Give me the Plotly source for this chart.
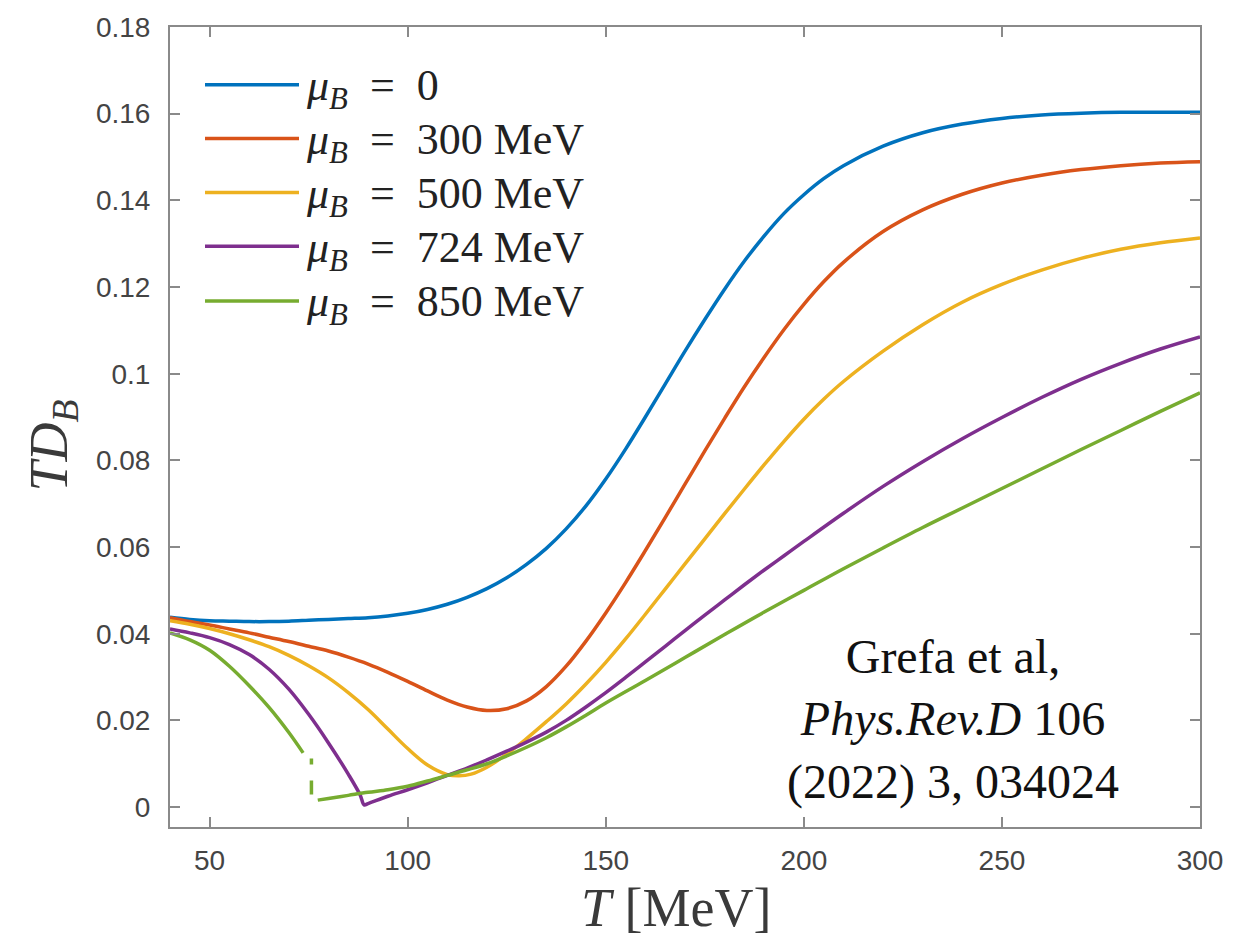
import plotly.graph_objects as go

# Temperature grids (MeV) and T*D_B values for each baryon chemical potential
T_mu0 = [40, 45, 50, 55, 60, 65, 70, 75, 80, 85, 90, 95, 100, 105, 110, 115, 120, 125,
         130, 135, 140, 145, 150, 155, 160, 165, 170, 175, 180, 185, 190, 195, 200,
         205, 210, 220, 230, 240, 250, 260, 270, 280, 290, 300]
D_mu0 = [0.0438, 0.0433, 0.0430, 0.0429, 0.0428, 0.0428, 0.0429, 0.0431, 0.0433, 0.0435,
         0.0437, 0.0441, 0.0447, 0.0456, 0.0468, 0.0484, 0.0504, 0.0529, 0.0560, 0.0597,
         0.0642, 0.0695, 0.0757, 0.0826, 0.0900, 0.0976, 0.1052, 0.1125, 0.1195, 0.1260,
         0.1318, 0.1370, 0.1413, 0.1450, 0.1480, 0.1525, 0.1556, 0.1576, 0.1589, 0.1597,
         0.1601, 0.1603, 0.1603, 0.1603]

T_mu300 = [40, 45, 50, 55, 60, 65, 70, 75, 80, 85, 90, 95, 100, 105, 110, 115, 120, 125,
           130, 135, 140, 145, 150, 155, 160, 165, 170, 175, 180, 185, 190, 195, 200,
           205, 210, 220, 230, 240, 250, 260, 270, 280, 290, 300]
D_mu300 = [0.0437, 0.0428, 0.0420, 0.0411, 0.0402, 0.0392, 0.0382, 0.0371, 0.0360, 0.0346,
           0.0330, 0.0311, 0.0290, 0.0268, 0.0247, 0.0231, 0.0223, 0.0227, 0.0245, 0.0278,
           0.0325, 0.0383, 0.0448, 0.0518, 0.0592, 0.0668, 0.0745, 0.0822, 0.0897, 0.0970,
           0.1038, 0.1102, 0.1160, 0.1212, 0.1257, 0.1328, 0.1378, 0.1414, 0.1440, 0.1458,
           0.1471, 0.1480, 0.1486, 0.1489]

T_mu500 = [40, 45, 50, 55, 60, 65, 70, 75, 80, 85, 90, 95, 100, 105, 110, 113, 116, 120,
           125, 130, 135, 140, 145, 150, 155, 160, 165, 170, 175, 180, 185, 190, 195, 200,
           205, 210, 220, 230, 240, 250, 260, 270, 280, 290, 300]
D_mu500 = [0.0430, 0.0422, 0.0412, 0.0400, 0.0386, 0.0370, 0.0350, 0.0326, 0.0298, 0.0264,
           0.0225, 0.0180, 0.0135, 0.0097, 0.0075, 0.0072, 0.0076, 0.0092, 0.0122, 0.0158,
           0.0197, 0.0238, 0.0284, 0.0334, 0.0388, 0.0445, 0.0503, 0.0561, 0.0619, 0.0677,
           0.0734, 0.0790, 0.0844, 0.0895, 0.0941, 0.0982, 0.1052, 0.1113, 0.1165, 0.1206,
           0.1239, 0.1266, 0.1287, 0.1302, 0.1313]

T_mu724 = [40, 45, 50, 55, 60, 65, 70, 75, 80, 85, 88, 89, 90, 95, 100, 105, 110, 115,
           120, 125, 130, 135, 140, 145, 150, 155, 160, 165, 170, 175, 180, 185, 190, 195,
           200, 210, 220, 230, 240, 250, 260, 270, 280, 290, 300]
D_mu724 = [0.0411, 0.0402, 0.0391, 0.0375, 0.0352, 0.0318, 0.0272, 0.0214, 0.0148, 0.0076,
           0.0028, 0.0005, 0.0008, 0.0025, 0.0040, 0.0056, 0.0073, 0.0090, 0.0109, 0.0129,
           0.0150, 0.0173, 0.0200, 0.0231, 0.0264, 0.0299, 0.0335, 0.0371, 0.0407, 0.0443,
           0.0478, 0.0513, 0.0547, 0.0580, 0.0613, 0.0678, 0.0740, 0.0797, 0.0850, 0.0899,
           0.0945, 0.0987, 0.1024, 0.1057, 0.1085]

# mu_B = 850 MeV: low-T branch, jump, high-T branch
T_mu850_low = [40, 45, 50, 55, 60, 65, 70, 73.6]
D_mu850_low = [0.0402, 0.0386, 0.0362, 0.0325, 0.0280, 0.0230, 0.0172, 0.0125]
T_mu850_jump = [75.7, 75.7]
D_mu850_jump = [0.0112, 0.0020]
T_mu850_high = [77.3, 80, 85, 90, 95, 100, 105, 110, 115, 120, 125, 130, 135, 140, 145,
                150, 160, 170, 180, 190, 200, 210, 220, 230, 240, 250, 260, 270, 280, 290, 300]
D_mu850_high = [0.0016, 0.0020, 0.0027, 0.0034, 0.0040, 0.0048, 0.0060, 0.0073, 0.0086,
                0.0100, 0.0118, 0.0138, 0.0160, 0.0185, 0.0212, 0.0240, 0.0292, 0.0345,
                0.0398, 0.0450, 0.0500, 0.0550, 0.0598, 0.0645, 0.0690, 0.0735, 0.0780,
                0.0825, 0.0869, 0.0913, 0.0956]

legend_labels = ["0", "300 MeV", "500 MeV", "724 MeV", "850 MeV"]
colors = ["#0072BD", "#D95319", "#EDB120", "#7E2F8E", "#77AC30"]

x_ticks = [50, 100, 150, 200, 250, 300]
y_ticks = [0, 0.02, 0.04, 0.06, 0.08, 0.10, 0.12, 0.14, 0.16, 0.18]
y_tick_labels = ["0", "0.02", "0.04", "0.06", "0.08", "0.1", "0.12", "0.14", "0.16", "0.18"]

citation = "Grefa et al,<br><i>Phys.Rev.D</i> 106<br>(2022) 3, 034024"

# figure geometry (pixels)
W, H = 1250, 939
ML, MR, MT, MB = 170, 50, 24, 112
PW, PH = W - ML - MR, H - MT - MB


def px_x(x):
    return (x - ML) / PW


def px_y(y):
    return (H - MB - y) / PH


series = [
    (T_mu0, D_mu0),
    (T_mu300, D_mu300),
    (T_mu500, D_mu500),
    (T_mu724, D_mu724),
]

fig = go.Figure()
LW = 3.5
curve = dict(width=LW, shape="spline", smoothing=1.0)
for (t, d), c, lab in zip(series, colors, legend_labels):
    fig.add_trace(go.Scatter(x=t, y=d, mode="lines", name=f"μB = {lab}",
                             line=dict(color=c, **curve), showlegend=False))

fig.add_trace(go.Scatter(x=T_mu850_low, y=D_mu850_low, mode="lines", name="μB = 850 MeV",
                         line=dict(color=colors[4], **curve), showlegend=False))
fig.add_trace(go.Scatter(x=T_mu850_jump, y=D_mu850_jump, mode="lines",
                         line=dict(color=colors[4], width=LW, dash="6px,16px,14px"),
                         showlegend=False))
fig.add_trace(go.Scatter(x=T_mu850_high, y=D_mu850_high, mode="lines",
                         line=dict(color=colors[4], **curve), showlegend=False))

axis_col = "#8a8a8a"
tick_font = dict(family="Liberation Sans, Arial, sans-serif", size=28, color="#444444")
serif = "Liberation Serif, Times New Roman, serif"

fig.update_xaxes(range=[40, 300], tickvals=x_ticks, ticks="inside", ticklen=10,
                 tickwidth=2, tickcolor=axis_col, showline=True, linecolor=axis_col,
                 linewidth=2, mirror="ticks", showgrid=False, zeroline=False,
                 tickfont=tick_font, ticklabelstandoff=7)
fig.update_yaxes(range=[-0.0046, 0.18], tickvals=y_ticks, ticktext=y_tick_labels,
                 ticks="inside", ticklen=10, tickwidth=2, tickcolor=axis_col,
                 showline=True, linecolor=axis_col, linewidth=2, mirror="ticks",
                 showgrid=False, zeroline=False, tickfont=tick_font,
                 ticklabelstandoff=12)

shapes = []
annotations = []

# legend: sample lines with labels
row_y = [82, 136, 190, 244, 299]
for ry, c, lab in zip(row_y, colors, legend_labels):
    shapes.append(dict(type="line", xref="paper", yref="paper",
                       x0=px_x(205), x1=px_x(299), y0=px_y(ry), y1=px_y(ry),
                       line=dict(color=c, width=LW)))
    annotations.append(dict(xref="paper", yref="paper", x=px_x(304), y=px_y(ry + 4),
                            xanchor="left", yanchor="middle", showarrow=False,
                            text=f"<i>μ</i><sub><i>B</i></sub>\u00a0\u00a0=\u00a0\u00a0{lab}",
                            font=dict(family=serif, size=44, color="#222222")))

# axis titles
annotations.append(dict(xref="paper", yref="paper", x=px_x(676), y=px_y(908),
                        xanchor="center", yanchor="middle", showarrow=False,
                        text="<i>T</i>\u00a0[MeV]",
                        font=dict(family=serif, size=54, color="#3a3a3a")))
annotations.append(dict(xref="paper", yref="paper", x=px_x(52), y=px_y(444),
                        xanchor="center", yanchor="middle", showarrow=False,
                        textangle=-90, text="<i>TD</i><sub><i>B</i></sub>",
                        font=dict(family=serif, size=54, color="#3a3a3a")))

# reference note
annotations.append(dict(xref="paper", yref="paper", x=px_x(953), y=px_y(719),
                        xanchor="center", yanchor="middle", showarrow=False,
                        align="center", text=citation,
                        font=dict(family=serif, size=48, color="#111111")))

fig.update_layout(width=W, height=H, margin=dict(l=ML, r=MR, t=MT, b=MB),
                  paper_bgcolor="white", plot_bgcolor="white",
                  shapes=shapes, annotations=annotations, showlegend=False)

fig.write_html("out.html")
